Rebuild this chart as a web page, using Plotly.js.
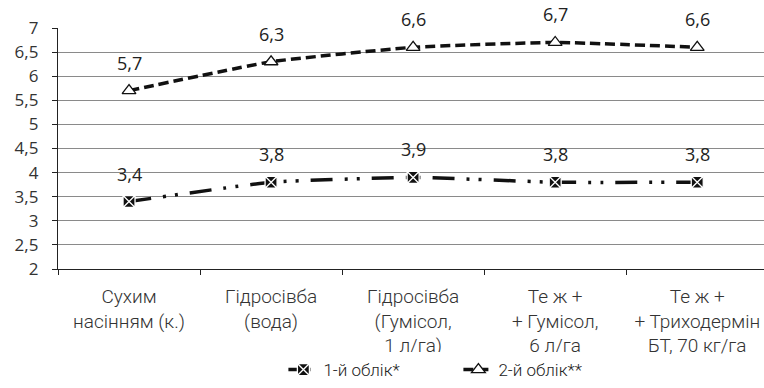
<!DOCTYPE html>
<html>
<head>
<meta charset="utf-8">
<script src="https://cdn.plot.ly/plotly-3.0.1.min.js"></script>
<style>html,body{margin:0;padding:0;background:#fff;}#chart{width:764px;height:388px;}</style>
</head>
<body>
<div id="chart"></div>
<script>
const categories = [
  'Сухим<br>насінням (к.)',
  'Гідросівба<br>(вода)',
  'Гідросівба<br>(Гумісол,<br>1 л/га)',
  'Те ж +<br>+ Гумісол,<br>6 л/га',
  'Те ж +<br>+ Триходермін<br>БТ, 70 кг/га'
];
const series1Name = '1-й облік*';
const series1 = [3.4, 3.8, 3.9, 3.8, 3.8];
const series2Name = '2-й облік**';
const series2 = [5.7, 6.3, 6.6, 6.7, 6.6];

const narrow = 'Roboto, "Liberation Sans Narrow", sans-serif';
const labelFont = '"Open Sans", "DejaVu Sans", sans-serif';

const fmt = v => v.toFixed(1).replace('.', ',');

const traces = [
  {
    x: categories, y: series1, name: series1Name, type: 'scatter', mode: 'lines+markers',
    line: {color: '#111', width: 3.5, dash: '22px,12px,3px,9px,3px,12px', shape: 'spline', smoothing: 0.4},
    marker: {symbol: 'square-x', size: 12, color: '#111', line: {color: '#fff', width: 1.3}}
  },
  {
    x: categories, y: series2, name: series2Name, type: 'scatter', mode: 'lines+markers',
    line: {color: '#111', width: 3.5, dash: '10px,5px', shape: 'spline', smoothing: 0.4},
    marker: {symbol: 'triangle-up', size: 12, color: '#fff', line: {color: '#111', width: 1.3}}
  }
];

const annotations = [];
[series1, series2].forEach(s => {
  s.forEach((v, i) => {
    annotations.push({
      x: categories[i], y: v, xref: 'x', yref: 'y', text: fmt(v), showarrow: false,
      yshift: 28, font: {family: labelFont, size: 18, color: '#222'}
    });
  });
});

const layout = {
  width: 764, height: 388,
  margin: {l: 58, r: 0, t: 28, b: 119},
  paper_bgcolor: '#fff', plot_bgcolor: '#fff',
  separators: ', ',
  showlegend: true,
  legend: {
    orientation: 'h', xref: 'container', yref: 'container',
    x: 0.6, xanchor: 'center', y: -0.02, yanchor: 'bottom',
    font: {family: narrow, size: 17, color: '#222', weight: 300},
    entrywidth: 130, entrywidthmode: 'pixels'
  },
  xaxis: {
    type: 'category', range: [-0.5, 4.47],
    showgrid: false, showline: true, linecolor: '#222', linewidth: 1.2,
    ticks: 'outside', tickson: 'boundaries', ticklen: 5, tickcolor: '#222', tickwidth: 1,
    tickfont: {family: narrow, size: 19, color: '#333', weight: 300},
    ticklabelstandoff: 10,
    zeroline: false, fixedrange: true
  },
  yaxis: {
    range: [2, 7], dtick: 0.5, tick0: 2,
    showgrid: true, gridcolor: '#8a8a8a', gridwidth: 1,
    showline: true, linecolor: '#222', linewidth: 1.2,
    ticks: 'outside', ticklen: 5, tickcolor: '#222', tickwidth: 1,
    tickfont: {family: labelFont, size: 17, color: '#333'},
    ticklabelstandoff: 10,
    zeroline: false, fixedrange: true
  },
  annotations: annotations
};

Plotly.newPlot('chart', traces, layout, {displayModeBar: false, staticPlot: true});
</script>
</body>
</html>
